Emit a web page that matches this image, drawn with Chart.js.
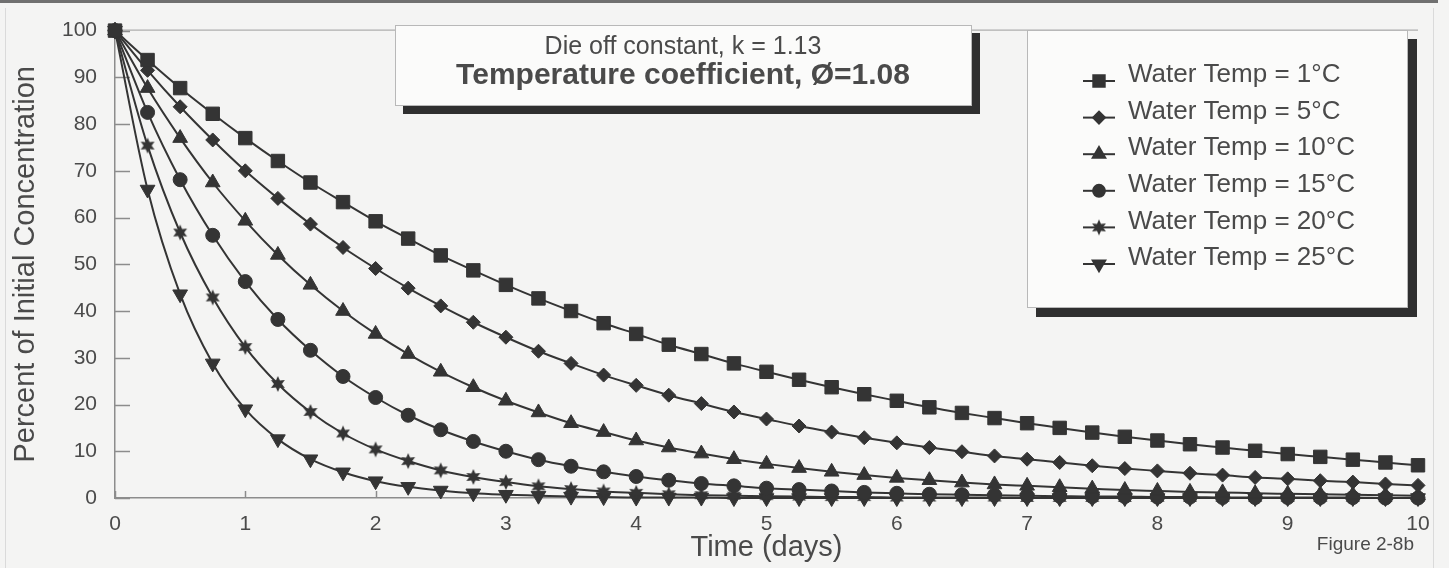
<!DOCTYPE html>
<html>
<head>
<meta charset="utf-8">
<title>Die off curves - Figure 2-8b</title>
<script src="https://cdn.jsdelivr.net/npm/chart.js@4.4.1/dist/chart.umd.min.js"></script>
<style>
  html, body { margin: 0; padding: 0; background: #f4f4f3; }
  #wrap { position: relative; width: 1449px; height: 568px; }
</style>
</head>
<body>
<div id="wrap"><canvas id="chart"></canvas></div>
<script>
// time axis, every quarter day
const days = [0, 0.25, 0.5, 0.75, 1, 1.25, 1.5, 1.75, 2, 2.25, 2.5, 2.75, 3, 3.25, 3.5, 3.75,
  4, 4.25, 4.5, 4.75, 5, 5.25, 5.5, 5.75, 6, 6.25, 6.5, 6.75, 7, 7.25, 7.5, 7.75,
  8, 8.25, 8.5, 8.75, 9, 9.25, 9.5, 9.75, 10];

// percent of initial concentration
const temp1 = [100, 93.7, 87.7, 82.2, 77.0, 72.1, 67.5, 63.3, 59.2, 55.5, 51.9, 48.7, 45.6, 42.7, 40.0, 37.4,
  35.1, 32.8, 30.8, 28.8, 27.0, 25.3, 23.7, 22.2, 20.8, 19.4, 18.2, 17.1, 16.0, 15.0, 14.0, 13.1,
  12.3, 11.5, 10.8, 10.1, 9.4, 8.8, 8.2, 7.6, 7.0];
const temp5 = [100, 91.5, 83.7, 76.6, 70.0, 64.1, 58.6, 53.6, 49.1, 44.9, 41.1, 37.6, 34.4, 31.4, 28.8, 26.3,
  24.1, 22.0, 20.2, 18.4, 16.9, 15.4, 14.1, 12.9, 11.8, 10.8, 9.9, 9.0, 8.3, 7.6, 6.9, 6.3,
  5.8, 5.3, 4.9, 4.4, 4.1, 3.7, 3.4, 3.0, 2.7];
const temp10 = [100, 87.7, 77.0, 67.5, 59.3, 52.0, 45.6, 40.0, 35.1, 30.8, 27.0, 23.7, 20.8, 18.3, 16.0, 14.1,
  12.3, 10.8, 9.5, 8.3, 7.3, 6.4, 5.6, 4.9, 4.3, 3.8, 3.3, 2.9, 2.6, 2.3, 2.0, 1.7,
  1.5, 1.3, 1.2, 1.0, 0.9, 0.8, 0.7, 0.6, 0.5];
const temp15 = [100, 82.5, 68.1, 56.2, 46.3, 38.2, 31.6, 26.0, 21.5, 17.7, 14.6, 12.1, 10.0, 8.2, 6.8, 5.6,
  4.6, 3.8, 3.1, 2.6, 2.1, 1.8, 1.5, 1.2, 1.0, 0.8, 0.7, 0.6, 0.5, 0.4, 0.3, 0.3,
  0.2, 0.2, 0.1, 0.1, 0.1, 0.1, 0.1, 0.0, 0.0];
const temp20 = [100, 75.4, 56.8, 42.9, 32.3, 24.4, 18.4, 13.8, 10.4, 7.9, 5.9, 4.5, 3.4, 2.5, 1.9, 1.4,
  1.1, 0.8, 0.6, 0.5, 0.4, 0.3, 0.2, 0.2, 0.1, 0.1, 0.1, 0.1, 0.0, 0.0, 0.0, 0.0,
  0.0, 0.0, 0.0, 0.0, 0.0, 0.0, 0.0, 0.0, 0.0];
const temp25 = [100, 66.0, 43.6, 28.8, 19.0, 12.6, 8.3, 5.5, 3.6, 2.4, 1.6, 1.0, 0.7, 0.5, 0.3, 0.2,
  0.1, 0.1, 0.1, 0.0, 0.0, 0.0, 0.0, 0.0, 0.0, 0.0, 0.0, 0.0, 0.0, 0.0, 0.0, 0.0,
  0.0, 0.0, 0.0, 0.0, 0.0, 0.0, 0.0, 0.0, 0.0];

const seriesLabels = ['Water Temp = 1°C', 'Water Temp = 5°C', 'Water Temp = 10°C',
  'Water Temp = 15°C', 'Water Temp = 20°C', 'Water Temp = 25°C'];
const seriesValues = [temp1, temp5, temp10, temp15, temp20, temp25];

const noteLine1 = 'Die off constant, k = 1.13';
const noteLine2 = 'Temperature coefficient, Ø=1.08';
const figureLabel = 'Figure 2-8b';

const ink = '#343434';
const textColor = '#4a4a4a';
const axisColor = '#8c8c8c';
const fontFamily = '"Liberation Sans", Arial, sans-serif';

// six pointed filled star, like the scanned marker
function starMarker(r) {
    const c = document.createElement('canvas');
    const s = Math.ceil(r * 2 + 2);
    c.width = s;
    c.height = s;
    const g = c.getContext('2d');
    g.fillStyle = ink;
    g.beginPath();
    for (let k = 0; k < 12; k++) {
        const rr = k % 2 ? r * 0.5 : r;
        const ang = -Math.PI / 2 + k * Math.PI / 6;
        g.lineTo(s / 2 + rr * Math.cos(ang), s / 2 + rr * Math.sin(ang));
    }
    g.closePath();
    g.fill();
    return c;
}

// marker look per series
const markerStyles = ['rect', 'rectRot', 'triangle', 'circle', starMarker(8), 'triangle'];
const markerRotations = [0, 0, 0, 0, 0, 180];
const markerRadius = [9.5, 7, 8.5, 7, 8, 8.5];

function shadowBox(ctx, l, t, r, b, off) {
    ctx.fillStyle = '#2f2f2f';
    ctx.fillRect(l + off, t + off, r - l, b - t);
    ctx.fillStyle = '#fbfbfa';
    ctx.fillRect(l, t, r - l, b - t);
    ctx.strokeStyle = '#b8b8b8';
    ctx.lineWidth = 1;
    ctx.strokeRect(l + 0.5, t + 0.5, r - l - 1, b - t - 1);
}

const paperPlugin = {
    id: 'paper',
    beforeDraw(chart) {
        const ctx = chart.ctx;
        const a = chart.chartArea;
        ctx.save();
        ctx.fillStyle = '#f4f4f3';
        ctx.fillRect(0, 0, chart.width, chart.height);
        // scan edges
        ctx.fillStyle = '#707070';
        ctx.fillRect(0, 0, 1438, 3);
        ctx.strokeStyle = '#dadada';
        ctx.lineWidth = 1;
        ctx.beginPath();
        ctx.moveTo(5.5, 8); ctx.lineTo(5.5, chart.height);
        ctx.moveTo(1433.5, 8); ctx.lineTo(1433.5, chart.height);
        ctx.stroke();
        // top frame of plot
        ctx.strokeStyle = '#9c9c9c';
        ctx.beginPath();
        ctx.moveTo(a.left, a.top - 0.5);
        ctx.lineTo(a.right, a.top - 0.5);
        ctx.stroke();
        ctx.restore();
    },
    beforeDatasetsDraw(chart) {
        // tick marks point inward
        const { ctx, scales: { x, y } } = chart;
        ctx.save();
        ctx.strokeStyle = axisColor;
        ctx.lineWidth = 1.5;
        ctx.beginPath();
        y.ticks.forEach(t => {
            const py = Math.round(y.getPixelForValue(t.value)) + 0.5;
            ctx.moveTo(x.left, py);
            ctx.lineTo(x.left + 15, py);
        });
        x.ticks.forEach(t => {
            const px = Math.round(x.getPixelForValue(t.value)) + 0.5;
            ctx.moveTo(px, y.bottom);
            ctx.lineTo(px, y.bottom - 7);
        });
        ctx.stroke();
        ctx.restore();
    },
    afterDraw(chart) {
        const ctx = chart.ctx;
        ctx.save();

        // parameter note
        shadowBox(ctx, 395, 25, 972, 106, 8);
        ctx.fillStyle = textColor;
        ctx.textAlign = 'center';
        ctx.textBaseline = 'middle';
        ctx.font = '25px ' + fontFamily;
        ctx.fillText(noteLine1, 683, 47);
        ctx.font = 'bold 30px ' + fontFamily;
        ctx.fillText(noteLine2, 683, 76);

        // legend
        shadowBox(ctx, 1027, 30, 1408, 308, 9);
        chart.data.datasets.forEach((ds, i) => {
            const ty = 75 + i * 36.6;
            const my = ty + 6;
            ctx.strokeStyle = ink;
            ctx.lineWidth = 2;
            ctx.beginPath();
            ctx.moveTo(1083, my);
            ctx.lineTo(1115, my);
            ctx.stroke();
            ctx.fillStyle = ink;
            Chart.helpers.drawPoint(ctx, {
                pointStyle: ds.pointStyle,
                rotation: ds.pointRotation,
                radius: ds.pointRadius * 0.85,
                borderWidth: 1
            }, 1099, my);
            ctx.fillStyle = textColor;
            ctx.textAlign = 'left';
            ctx.textBaseline = 'middle';
            ctx.font = '26px ' + fontFamily;
            ctx.fillText(ds.label, 1128, ty);
        });

        ctx.font = '19px ' + fontFamily;
        ctx.textAlign = 'right';
        ctx.fillText(figureLabel, 1414, 545);
        ctx.restore();
    }
};

const datasets = seriesValues.map((vals, i) => ({
    label: seriesLabels[i],
    data: days.map((d, j) => ({ x: d, y: vals[j] })),
    borderColor: ink,
    backgroundColor: ink,
    borderWidth: 2,
    pointStyle: markerStyles[i],
    pointRotation: markerRotations[i],
    pointRadius: markerRadius[i],
    pointBorderWidth: 1,
    pointBorderColor: ink,
    pointBackgroundColor: ink,
    cubicInterpolationMode: 'monotone',
    clip: false
}));

const chart = new Chart(document.getElementById('chart'), {
    type: 'line',
    data: { datasets: datasets },
    options: {
        responsive: true,
        maintainAspectRatio: false,
        animation: false,
        layout: { padding: { left: 0, top: 26, right: 31, bottom: 0 } },
        scales: {
            x: {
                type: 'linear',
                min: 0,
                max: 10,
                grid: { display: false, drawTicks: false },
                border: { color: axisColor, width: 1.5 },
                ticks: {
                    stepSize: 1,
                    padding: 14,
                    color: textColor,
                    font: { family: fontFamily, size: 21 }
                },
                title: {
                    display: true,
                    text: 'Time (days)',
                    color: textColor,
                    font: { family: fontFamily, size: 29 },
                    padding: { top: 0, bottom: 3 }
                },
                afterFit(scale) { scale.height = 70; }
            },
            y: {
                min: 0,
                max: 100,
                grid: { display: false, drawTicks: false },
                border: { color: axisColor, width: 1.5 },
                ticks: {
                    stepSize: 10,
                    padding: 18,
                    color: textColor,
                    font: { family: fontFamily, size: 21 }
                },
                title: {
                    display: true,
                    text: 'Percent of Initial Concentration',
                    color: textColor,
                    font: { family: fontFamily, size: 29 },
                    padding: { top: 9, bottom: 0 }
                },
                afterFit(scale) { scale.width = 115; }
            }
        },
        plugins: {
            legend: { display: false },
            tooltip: { enabled: false }
        }
    },
    plugins: [paperPlugin]
});
</script>
</body>
</html>
